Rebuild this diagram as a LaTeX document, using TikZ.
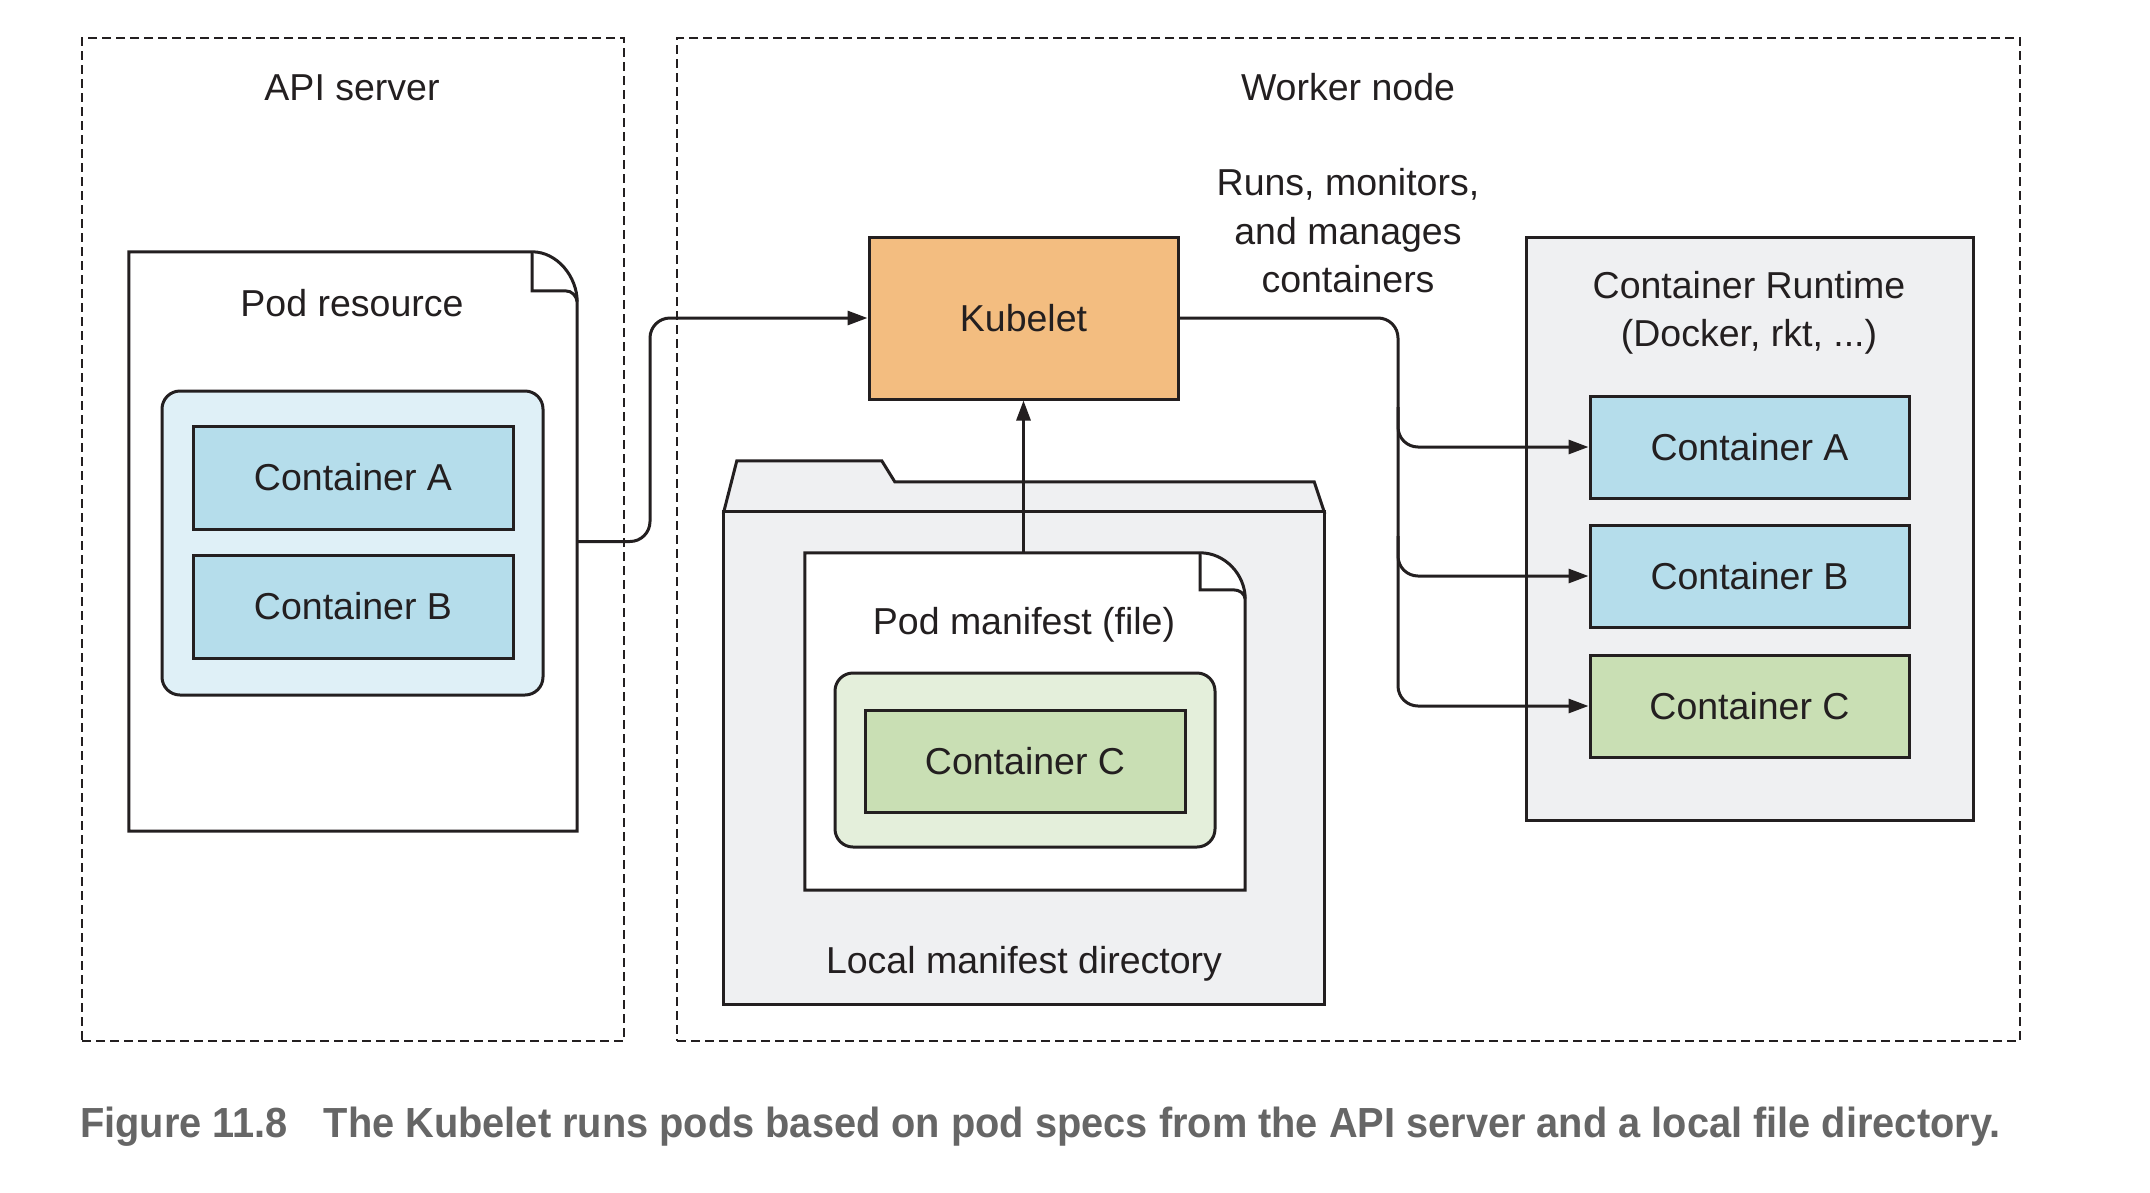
\documentclass[tikz,border=0pt]{standalone}
\usepackage{fontspec}
\setmainfont{Liberation Sans}
\usetikzlibrary{arrows.meta,calc}
\definecolor{ink}{HTML}{231F20}
\definecolor{kubfill}{HTML}{F3BD80}
\definecolor{bluebox}{HTML}{B5DDEB}
\definecolor{bluepod}{HTML}{DFF0F7}
\definecolor{greenbox}{HTML}{C9DFB4}
\definecolor{greenpod}{HTML}{E4EFDB}
\definecolor{grayfill}{HTML}{EFF0F2}
\definecolor{captiongray}{HTML}{666666}
\tikzset{
  every node/.style={font=\fontsize{37.5pt}{48.5pt}\selectfont, text=ink},
  line/.style={draw=ink, line width=3pt},
  dashbox/.style={draw=ink, line width=2.3pt, dash pattern=on 9pt off 5pt},
  box/.style={line, rectangle, inner sep=0pt},
  bluec/.style={box, fill=bluebox},
  greenc/.style={box, fill=greenbox},
  podbox/.style={box, rounded corners=18pt},
  plain/.style={inner sep=0pt, align=center},
  arr/.style={line, -{Triangle[length=20pt,width=14pt]}},
}
\begin{document}
\begin{tikzpicture}[x=1pt,y=-1pt]
\useasboundingbox (0,0) rectangle (2150,1192);

% dashed areas
\node[dashbox, minimum width=542pt, minimum height=1003pt, inner sep=0pt] (api) at (353,539.5) {};
\node[dashbox, minimum width=1343pt, minimum height=1003pt, inner sep=0pt] (worker) at (1348.5,539.5) {};
\node[plain] (apilabel) at (352,87.5) {API server};
\node[plain] (workerlabel) at (1348,87.5) {Worker node};

% Pod resource document
\node[inner sep=0pt, minimum width=448pt, minimum height=579pt] (podres) at (353,541.5) {};
\draw[line, fill=white] (podres.north west) -- ($(podres.north east)+(-45,0)$)
  .. controls ($(podres.north east)+(-20,0)$) and ($(podres.north east)+(0,25)$) .. ($(podres.north east)+(0,50)$)
  -- (podres.south east) -- (podres.south west) -- cycle;
\draw[line, fill=white] ($(podres.north east)+(-45,0)$) -- ++(0,39) -- ++(33,0)
  .. controls +(7,0) and +(-1,-6) .. ($(podres.north east)+(0,50)$);
\node[plain] (podreslabel) at (352,303) {Pod resource};
\node[podbox, fill=bluepod, minimum width=381pt, minimum height=304pt] (bluepodbox) at (352.5,543) {};
\node[bluec, minimum width=320pt, minimum height=103pt] (lca) at (353,477.5) {Container A};
\node[bluec, minimum width=320pt, minimum height=103pt] (lcb) at (353,606.5) {Container B};

% Kubelet
\node[box, fill=kubfill, minimum width=309pt, minimum height=162pt] (kub) at (1023.5,318) {Kubelet};
\node[plain] (runs) at (1348,231) {Runs, monitors,\\and manages\\containers};

% Container runtime
\node[box, fill=grayfill, minimum width=447pt, minimum height=583pt] (runtime) at (1749.5,528.5) {};
\node[plain] (rtlabel) at (1749,313) {Container Runtime\\(Docker, rkt, ...)};
\node[bluec, minimum width=319pt, minimum height=102pt] (rca) at (1749.5,447) {Container A};
\node[bluec, minimum width=319pt, minimum height=102pt] (rcb) at (1749.5,576) {Container B};
\node[greenc, minimum width=319pt, minimum height=102pt] (rcc) at (1749.5,706) {Container C};

% Folder
\node[inner sep=0pt, minimum width=600pt, minimum height=492pt] (folder) at (1024,758) {};
\draw[line, fill=grayfill] (folder.north west) -- ($(folder.north west)+(13,-51)$) -- ($(folder.north west)+(158,-51)$)
  -- ($(folder.north west)+(171,-30)$) -- ($(folder.north east)+(-10,-30)$) -- (folder.north east) -- cycle;
\draw[line, fill=grayfill] (folder.north west) rectangle (folder.south east);
\node[plain] (folderlabel) at (1024,964) {Local manifest directory};

% Pod manifest document
\node[inner sep=0pt, minimum width=440pt, minimum height=337pt] (manifest) at (1025,721.5) {};
\draw[line, fill=white] (manifest.north west) -- ($(manifest.north east)+(-45,0)$)
  .. controls ($(manifest.north east)+(-20,0)$) and ($(manifest.north east)+(0,22)$) .. ($(manifest.north east)+(0,46)$)
  -- (manifest.south east) -- (manifest.south west) -- cycle;
\draw[line, fill=white] ($(manifest.north east)+(-45,0)$) -- ++(0,37) -- ++(33,0)
  .. controls +(7,0) and +(-1,-5) .. ($(manifest.north east)+(0,46)$);
\node[plain] (manifestlabel) at (1024,625) {Pod manifest (file)};
\node[podbox, fill=greenpod, minimum width=380pt, minimum height=174pt] (greenpodbox) at (1025,760) {};
\node[greenc, minimum width=320pt, minimum height=102pt] (lcc) at (1025,761) {Container C};

% connectors
\coordinate (j1) at (650,0);
\coordinate (bx) at (1398,0);
\draw[arr, rounded corners=20pt] (podres.east) -| (j1 |- kub.west) -- (kub.west);
\draw[arr] (kub.south |- manifest.north) -- (kub.south);
\draw[arr, rounded corners=20pt] (kub.east) -| (bx |- rcc.west) -- (rcc.west);
\draw[arr, rounded corners=20pt] ($(bx |- rca.west)+(0,-40)$) |- (rca.west);
\draw[arr, rounded corners=20pt] ($(bx |- rcb.west)+(0,-40)$) |- (rcb.west);

% caption
\node[inner sep=0pt, anchor=base west, text=captiongray] (caption) at (80,1137)
  {\resizebox{1920pt}{30.5pt}{\bfseries Figure 11.8\hspace{0.9em}The Kubelet runs pods based on pod specs from the API server and a local file directory.}};
\end{tikzpicture}
\end{document}
